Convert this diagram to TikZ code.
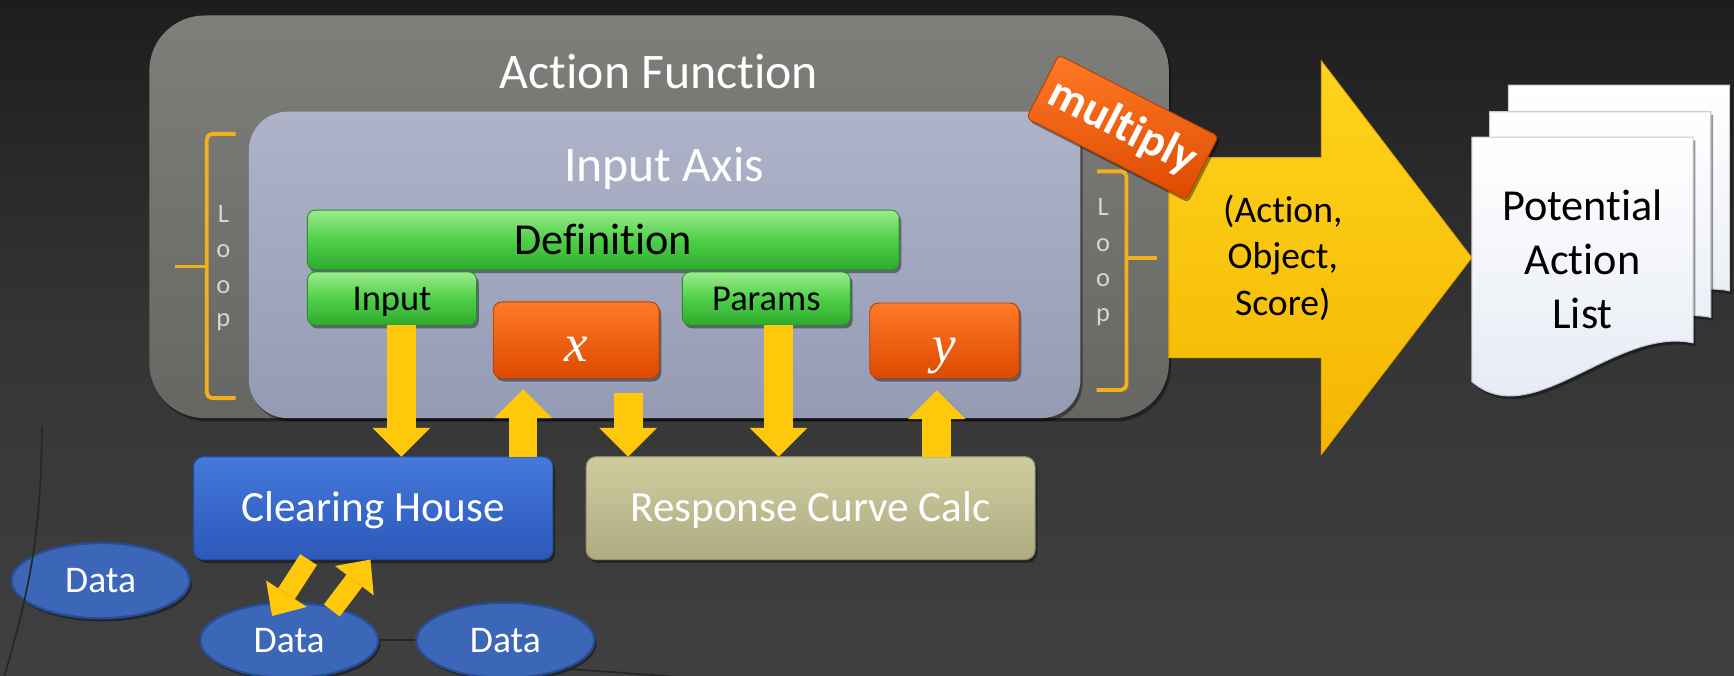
\documentclass[tikz,border=0pt]{standalone}
\usepackage{fontspec}
\setmainfont{Carlito}[Ligatures=CommonOff]
\newfontfamily\seriffont{Liberation Serif}
\usetikzlibrary{arrows.meta,shadows,shapes.geometric}

\definecolor{bgA}{HTML}{1D1D1D}
\definecolor{bgB}{HTML}{353535}
\definecolor{bgC}{HTML}{404040}
\definecolor{afTop}{HTML}{7E7F7B}
\definecolor{afBot}{HTML}{666763}
\definecolor{iaTop}{HTML}{AEB3C9}
\definecolor{iaBot}{HTML}{959BB3}
\definecolor{grTop}{HTML}{9BEB8E}
\definecolor{grMid}{HTML}{4FCF48}
\definecolor{grBot}{HTML}{2EAA2E}
\definecolor{grLine}{HTML}{2A8F2A}
\definecolor{orTop}{HTML}{FF7A26}
\definecolor{orBot}{HTML}{DD4A00}
\definecolor{orLine}{HTML}{B83C00}
\definecolor{ayel}{HTML}{FFC80A}
\definecolor{byTop}{HTML}{FFD41C}
\definecolor{byBot}{HTML}{F4B600}
\definecolor{byLine}{HTML}{E3A600}
\definecolor{chTop}{HTML}{4479DA}
\definecolor{chBot}{HTML}{2C58BA}
\definecolor{chLine}{HTML}{244C9E}
\definecolor{rcTop}{HTML}{CFCDA0}
\definecolor{rcBot}{HTML}{ADAB80}
\definecolor{rcLine}{HTML}{8F8D66}
\definecolor{dataFill}{HTML}{3C66B8}
\definecolor{dataLine}{HTML}{274C94}
\definecolor{brkCol}{HTML}{F3AF1E}
\definecolor{loopCol}{HTML}{D6D6D6}
\definecolor{docBot}{HTML}{E3E8F2}
\definecolor{docLine}{HTML}{C4CAD6}
\definecolor{faintCol}{HTML}{262626}

\begin{document}
\begin{tikzpicture}[x=1pt,y=-1pt,
 shad/.style={drop shadow={shadow xshift=2pt,shadow yshift=-3pt,opacity=0.4,fill=black}},
 box/.style={anchor=north west,inner sep=0pt,outer sep=0pt,text depth=0pt},
 ttl/.style={anchor=base,inner sep=0pt,text=white,font=\fontsize{45}{54}\selectfont},
 afbox/.style={box,rounded corners=50pt,top color=afTop,bottom color=afBot,minimum width=922pt,minimum height=364pt,shad},
 iabox/.style={box,rounded corners=35pt,top color=iaTop,bottom color=iaBot,minimum width=752pt,minimum height=277pt,shad},
 grbox/.style={box,rounded corners=7pt,top color=grTop,bottom color=grBot,middle color=grMid,draw=grLine,line width=0.8pt,text=black,shad},
 orbox/.style={box,rounded corners=8pt,top color=orTop,bottom color=orBot,draw=orLine,line width=0.8pt,text=white,font=\seriffont\itshape\fontsize{48}{48}\selectfont,text height=39pt,shad},
 chbox/.style={box,rounded corners=9pt,top color=chTop,bottom color=chBot,draw=chLine,line width=1pt,text=white,font=\fontsize{39}{39}\selectfont,text height=25pt,minimum height=93pt,shad},
 rcbox/.style={box,rounded corners=9pt,top color=rcTop,bottom color=rcBot,draw=rcLine,line width=1pt,text=white,font=\fontsize{39}{39}\selectfont,text height=25pt,minimum height=93pt,shad},
 dat/.style={ellipse,minimum width=161pt,minimum height=68pt,inner sep=0pt,fill=dataFill,draw=dataLine,line width=2pt,text=white,font=\fontsize{34}{34}\selectfont,text height=21.5pt,text depth=0pt,shad},
 brk/.style={draw=brkCol,line width=3.5pt,rounded corners=5pt},
 looplet/.style={anchor=base,inner sep=0pt,text=loopCol,font=\fontsize{24}{24}\selectfont},
 yarr/.style={draw=ayel,line width=26pt,-{Triangle[length=26pt,width=52pt,line width=0pt]}},
 darr/.style={draw=ayel,line width=18pt,-{Triangle[length=24pt,width=44pt,line width=0pt]}},
 bigarr/.style={top color=byTop,bottom color=byBot,draw=byLine,line width=0.8pt,line join=miter},
 sheet/.style={top color=white,bottom color=docBot,draw=docLine,line width=1pt,shad},
 faint/.style={draw=faintCol,line width=1.5pt},
 tagbox/.style={rotate=-27,minimum width=162pt,minimum height=64pt,inner sep=0pt,rounded corners=4pt,top color=orTop,bottom color=orBot,draw=orLine,line width=0.8pt,shad},
 tagtxt/.style={rotate=-27,inner sep=0pt,font=\bfseries\fontsize{42}{42}\selectfont},
]
\useasboundingbox (0,0) rectangle (1568,611);
\fill[top color=bgA,bottom color=bgC,middle color=bgB] (0,0) rectangle (1568,611);

% outer and inner containers
\node[afbox] (af) at (135,14) {};
\node[ttl] (aft) at (596,80) {Action Function};
\node[iabox] (ia) at (225,101) {};
\node[ttl] (iat) at (600.5,164) {Input Axis};

% green and orange boxes
\node[grbox,minimum width=535pt,minimum height=54pt,font=\fontsize{40}{40}\selectfont,text height=25.6pt] (def) at (278,190) {Definition};
\node[grbox,minimum width=153pt,minimum height=48pt,font=\fontsize{33}{33}\selectfont,text height=21pt] (in) at (278,246) {Input};
\node[grbox,minimum width=152pt,minimum height=48pt,font=\fontsize{33}{33}\selectfont,text height=21pt] (par) at (617,246) {Params};
\node[orbox,minimum width=150pt,minimum height=69pt] (xb) at (446,273) {x};
\node[orbox,minimum width=135pt,minimum height=68pt] (yb) at (786.5,274) {y};

% loop brackets
\draw[brk] (213,121) -- (187,121) -- (187,360) -- (213,360);
\draw[brk] (187,241) -- (158,241);
\draw[brk] (992,155) -- (1018.7,155) -- (1018.7,352.6) -- (991.6,352.6);
\draw[brk] (1018.7,233.6) -- (1045.8,233.6);
\foreach \yy/\t [count=\i] in {201/L,233/o,265/o,295/p}
  \node[looplet] (ll\i) at (202,\yy) {\t};
\foreach \yy/\t [count=\i] in {194.5/L,227/o,259/o,291/p}
  \node[looplet] (rl\i) at (997.5,\yy) {\t};

% document stack
\begin{scope}[shift={(33,-47)}]
  \path[sheet] (1331,124) -- (1531,124) -- (1531,310) .. controls (1460,295) and (1385,392) .. (1331,345) -- cycle;
\end{scope}
\begin{scope}[shift={(16,-23)}]
  \path[sheet] (1331,124) -- (1531,124) -- (1531,310) .. controls (1460,295) and (1385,392) .. (1331,345) -- cycle;
\end{scope}
\path[sheet] (1331,124) -- (1531,124) -- (1531,310) .. controls (1460,295) and (1385,392) .. (1331,345) -- cycle;
\node[inner sep=0pt,minimum width=200pt,minimum height=221pt,align=center,font=\fontsize{40}{49}\selectfont,text=black] (pal) at (1431,234.5) {Potential\\Action\\List};

% big arrow from Action Function to Potential Action List
\coordinate (aosc) at (1160,233);
\path[bigarr] ([yshift=90.5pt]af.east |- aosc)
  -- ([xshift=-136pt,yshift=90.5pt]pal.west |- aosc)
  -- ([xshift=-136pt,yshift=178pt]pal.west |- aosc)
  -- (pal.west |- aosc)
  -- ([xshift=-136pt,yshift=-178pt]pal.west |- aosc)
  -- ([xshift=-136pt,yshift=-90.5pt]pal.west |- aosc)
  -- ([yshift=-90.5pt]af.east |- aosc) -- cycle;
\node[align=center,inner sep=0pt,font=\fontsize{34}{42.3}\selectfont,text=black] (aos) at (aosc) {(Action,\\Object,\\Score)};

% multiply tag
\node[tagbox] (mul) at (1015,115) {};
\node[tagtxt,text=white] (mult) at (mul.center) {multiply};

% data
\node[dat] (d1) at (91,525) {Data};
\node[dat] (d2) at (261.5,579) {Data};
\node[dat] (d3) at (457,579) {Data};
\coordinate (fe1) at (640,614);
\coordinate (fe2) at (38,385);
\coordinate (fe3) at (4,611);
\draw[faint] (d2.east) -- (d3.west);
\draw[faint] (d3.-25) -- (fe1);
\draw[faint] (fe2) to[bend left=8] (fe3);

% lower boxes
\node[chbox,minimum width=325pt] (ch) at (175,413) {Clearing House};
\node[rcbox,minimum width=406pt] (rc) at (530,413) {Response Curve Calc};

% yellow connectors
\draw[yarr] ([xshift=8.5pt]in.south) -- ([xshift=8.5pt]in.south |- ch.north);
\draw[yarr] ([xshift=-48pt]xb.south |- ch.north) -- ([xshift=-48pt,yshift=-10pt]xb.south);
\draw[yarr] ([xshift=47pt,yshift=-13pt]xb.south) -- ([xshift=47pt]xb.south |- rc.north);
\draw[yarr] ([xshift=11pt]par.south) -- ([xshift=11pt]par.south |- rc.north);
\draw[yarr] ([xshift=-7pt]yb.south |- rc.north) -- ([xshift=-7pt,yshift=-11pt]yb.south);
\draw[darr] ([xshift=-58.5pt]ch.south) -- ([xshift=-15.5pt,yshift=-13pt]d2.north);
\draw[darr] ([xshift=38.5pt,yshift=-8pt]d2.north) -- ([xshift=-2.5pt]ch.south);
\end{tikzpicture}
\end{document}
